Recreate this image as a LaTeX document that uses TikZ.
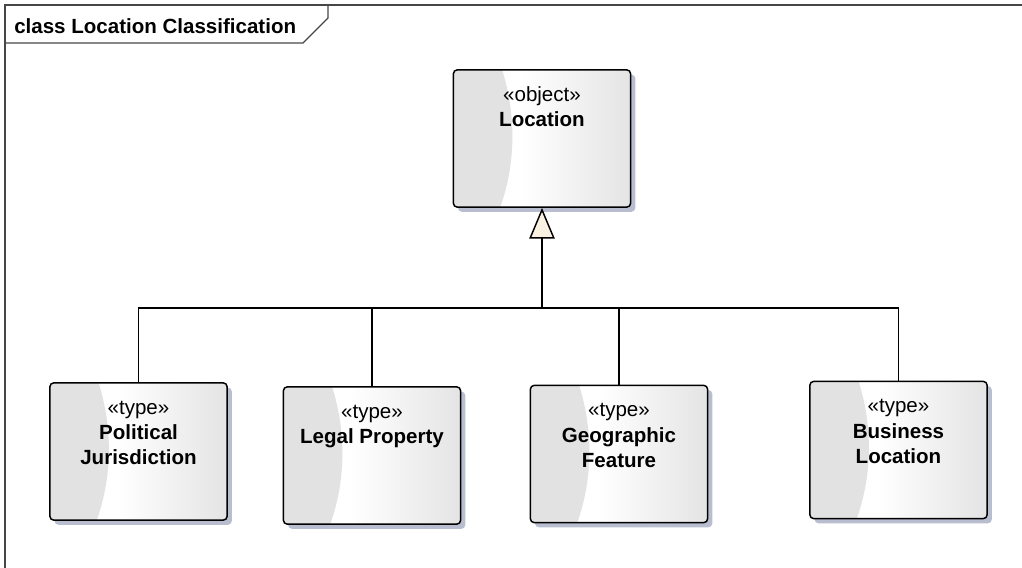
\documentclass[tikz,border=0pt]{standalone}
\usepackage{fontspec}
\setmainfont{Liberation Sans}
\usepackage{tikz}
\usetikzlibrary{positioning,arrows.meta,shadows}
\definecolor{boxgrey}{RGB}{228,228,228}
\definecolor{crescentc}{RGB}{226,226,226}
\definecolor{shadowc}{RGB}{184,190,208}
\definecolor{tipfill}{RGB}{251,241,226}
\definecolor{framec}{RGB}{70,70,70}
\pgfdeclarehorizontalshading{boxshade}{100bp}{color(0bp)=(white); color(44bp)=(white); color(75bp)=(boxgrey); color(100bp)=(boxgrey)}

\begin{document}
\begin{tikzpicture}[
    x=0.75pt, y=-0.75pt,
    classbox/.style={draw, line width=1.1pt, rounded corners=3pt, minimum width=133pt, minimum height=103pt, inner sep=0pt,
        shading=boxshade,
        drop shadow={shadow xshift=3.5pt, shadow yshift=-3.5pt, fill=shadowc, opacity=1},
        path picture={
            \fill[crescentc] ([xshift=-2pt,yshift=2pt]path picture bounding box.north west)
                -- ([xshift=36pt,yshift=2pt]path picture bounding box.north west)
                .. controls ([xshift=47pt,yshift=-34pt]path picture bounding box.north west)
                and ([xshift=47pt,yshift=34pt]path picture bounding box.south west)
                .. ([xshift=34.5pt,yshift=-2pt]path picture bounding box.south west)
                -- ([xshift=-2pt,yshift=-2pt]path picture bounding box.south west) -- cycle;
        }},
    boxtext/.style={align=center, inner sep=0pt, font=\fontsize{15.4}{19}\selectfont},
    frame/.style={draw=framec, line width=0.9pt},
    genline/.style={line width=1.1pt}
]
\useasboundingbox (0,0) rectangle (1022,568);

% diagram frame
\draw[frame] (5,568) -- (5,5) -- (1022,5);
\draw[frame] (5,43) -- (303,43) -- (328,18) -- (328,5);
\node[anchor=base west, inner sep=0pt, font=\fontsize{15.4}{18}\selectfont\bfseries] (title) at (14,33) {class Location Classification};

% classes
\node[classbox] (loc) at (542,138.5) {};
\node[classbox] (pj) at (138.5,451.5) {};
\node[classbox] (lp) at (372,455.5) {};
\node[classbox] (gf) at (619,454) {};
\node[classbox] (bl) at (898.5,450) {};

\node[boxtext, below=13pt of loc.north] (loctxt) {«object»\\\textbf{Location}};
\node[boxtext, below=14pt of pj.north] (pjtxt) {«type»\\\textbf{Political}\\\textbf{Jurisdiction}};
\node[boxtext, below=14pt of lp.north] (lptxt) {«type»\\\textbf{Legal Property}};
\node[boxtext, below=14pt of gf.north] (gftxt) {«type»\\\textbf{Geographic}\\\textbf{Feature}};
\node[boxtext, below=14pt of bl.north] (bltxt) {«type»\\\textbf{Business}\\\textbf{Location}};

% generalization
\coordinate (junc) at (542,308);
\draw[genline] (pj.north) |- (junc);
\draw[genline] (lp.north) |- (junc);
\draw[genline] (gf.north) |- (junc);
\draw[genline] (bl.north) |- (junc);
\draw[genline, -{Triangle[open, fill=tipfill, length=23pt, width=19pt]}] (junc) -- (loc.south);
\end{tikzpicture}
\end{document}
